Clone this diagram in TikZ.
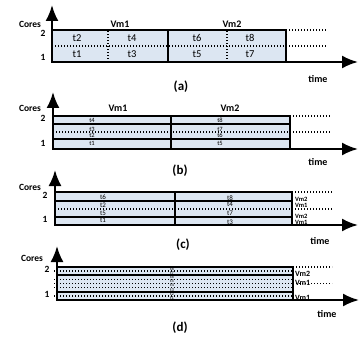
\documentclass[tikz,border=0pt]{standalone}
\usepackage{fontspec}
\setmainfont{Carlito}
\usetikzlibrary{arrows.meta}
\definecolor{cellfill}{RGB}{220,230,242}
\tikzset{
  axis/.style={line width=2.2pt,
    {Latex[length=16pt,width=13pt]}-{Latex[length=16pt,width=13pt]}},
  vmbox/.style={draw,line width=1.2pt,fill=cellfill},
  sep/.style={line width=1.8pt},
  dots/.style={line width=1.3pt,dash pattern=on 1.3pt off 1.7pt},
  lbl/.style={inner sep=0pt,font=\bfseries\fontsize{#1}{#1}\selectfont},
  lbl/.default=10,
  task/.style={inner sep=0pt,font=\fontsize{#1}{#1}\selectfont},
  caption/.style={inner sep=0pt,font=\bfseries\fontsize{13}{15}\selectfont},
}

\begin{document}
\begin{tikzpicture}[x=1pt,y=1pt]
\useasboundingbox (0,0) rectangle (359,338);

% (a) one task per core and time slot
\begin{scope}[shift={(52,276)}]
  \coordinate (a-o) at (0,0);
  \coordinate (a-y) at (0,57);
  \coordinate (a-x) at (306,0);
  \draw[vmbox] (0,0) rectangle (234,32);
  \draw[dots] (0,16) -- (275,16);
  \draw[dots] (234,32) -- (275,32);
  \draw[dots] (56,0) -- (56,32);
  \draw[dots] (175,0) -- (175,32);
  \draw[line width=1.2pt] (116,0) -- (116,32);
  \draw[axis] (a-y) -- (a-o) -- (a-x);
  \node[lbl] (a-vm1) at (68,38) {Vm1};
  \node[lbl] (a-vm2) at (180,38) {Vm2};
  \node[task=10.5] (a-t2) at (25,24) {t2};
  \node[task=10.5] (a-t4) at (80,24) {t4};
  \node[task=10.5] (a-t6) at (145,24) {t6};
  \node[task=10.5] (a-t8) at (198,24) {t8};
  \node[task=10.5] (a-t1) at (25,8) {t1};
  \node[task=10.5] (a-t3) at (80,8) {t3};
  \node[task=10.5] (a-t5) at (145,8) {t5};
  \node[task=10.5] (a-t7) at (198,8) {t7};
  \node[lbl=9.5] (a-cores) at (-22,38) {Cores};
  \node[lbl=9.5] (a-c2) at (-9,29) {2};
  \node[lbl=9.5] (a-c1) at (-9,5) {1};
  \node[lbl] (a-time) at (266,-17) {time};
  \node[caption] (a-cap) at (129,-25) {(a)};
\end{scope}

% (b) tasks of a VM stacked on the cores
\begin{scope}[shift={(53,189)}]
  \coordinate (b-o) at (0,0);
  \coordinate (b-y) at (0,57);
  \coordinate (b-x) at (305,0);
  \draw[vmbox] (0,0) rectangle (237,33);
  \draw[sep] (0,25) -- (237,25);
  \draw[sep] (0,10) -- (237,10);
  \draw[dots] (0,17) -- (277,17);
  \draw[dots] (237,33) -- (277,33);
  \draw[sep] (118,0) -- (118,33);
  \draw[axis] (b-y) -- (b-o) -- (b-x);
  \node[lbl] (b-vm1) at (65,41) {Vm1};
  \node[lbl] (b-vm2) at (177,41) {Vm2};
  \node[task=6.5] (b-t4) at (39,29) {t4};
  \node[task=6.5] (b-t3) at (39,20) {t3};
  \node[task=6.5] (b-t2) at (39,14) {t2};
  \node[task=6.5] (b-t1) at (39,6) {t1};
  \node[task=6.5] (b-t8) at (167,29) {t8};
  \node[task=6.5] (b-t7) at (167,20) {t7};
  \node[task=6.5] (b-t6) at (167,14) {t6};
  \node[task=6.5] (b-t5) at (167,6) {t5};
  \node[lbl=9.5] (b-cores) at (-23,41) {Cores};
  \node[lbl=9.5] (b-c2) at (-10,31) {2};
  \node[lbl=9.5] (b-c1) at (-10,6) {1};
  \node[lbl] (b-time) at (265,-13) {time};
  \node[caption] (b-cap) at (127,-22) {(b)};
\end{scope}

% (c) both VMs share every core
\begin{scope}[shift={(55,113)}]
  \coordinate (c-o) at (0,0);
  \coordinate (c-y) at (0,55);
  \coordinate (c-x) at (303,0);
  \draw[vmbox] (0,0) rectangle (237,33);
  \draw[sep] (0,24) -- (237,24);
  \draw[sep] (0,8) -- (237,8);
  \draw[dots] (0,16) -- (277,16);
  \draw[dots] (237,33) -- (277,33);
  \draw[sep] (120,0) -- (120,33);
  \draw[axis] (c-y) -- (c-o) -- (c-x);
  \node[task=7] (c-t6) at (48,28) {t6};
  \node[task=7] (c-t2) at (48,20) {t2};
  \node[task=7] (c-t5) at (48,12) {t5};
  \node[task=7] (c-t1) at (48,5) {t1};
  \node[task=7] (c-t8) at (175,27) {t8};
  \node[task=7] (c-t4) at (175,21) {t4};
  \node[task=7] (c-t7) at (175,12) {t7};
  \node[task=7] (c-t3) at (175,3) {t3};
  \node[lbl=6.5,anchor=west] (c-vm2a) at (240,26) {Vm2};
  \node[lbl=6.5,anchor=west] (c-vm1a) at (240,20) {Vm1};
  \node[lbl=6.5,anchor=west] (c-vm2b) at (240,9) {Vm2};
  \node[lbl=6.5,anchor=west] (c-vm1b) at (240,3) {Vm1};
  \node[lbl=9.5] (c-cores) at (-25,38) {Cores};
  \node[lbl=9.5] (c-c2) at (-10,30) {2};
  \node[lbl=9.5] (c-c1) at (-10,6) {1};
  \node[lbl] (c-time) at (265,-16) {time};
  \node[caption] (c-cap) at (128,-20) {(c)};
\end{scope}

% (d) one task per slice, eight slices
\begin{scope}[shift={(57,38)}]
  \coordinate (d-o) at (0,0);
  \coordinate (d-y) at (0,54);
  \coordinate (d-x) at (302,0);
  \draw[vmbox] (0,0) rectangle (236,33);
  \foreach \y in {4.125,12.375,16.5,20.625,28.875}
    \draw[dots] (-3,\y) -- (236,\y);
  \draw[sep] (0,24.75) -- (236,24.75);
  \draw[sep] (0,8.25) -- (236,8.25);
  \draw[dots] (236,33) -- (275,33);
  \draw[dots] (236,16.5) -- (275,16.5);
  \draw[axis] (d-y) -- (d-o) -- (d-x);
  \foreach \i in {1,...,8}
    \node[task=4.5] (d-t\i) at (115,{(\i-0.5)*4.125}) {t\i};
  \node[lbl=8,anchor=west] (d-vm2) at (238,26) {Vm2};
  \node[lbl=8,anchor=west] (d-vm1a) at (238,17) {Vm1};
  \node[lbl=8,anchor=west] (d-vm1b) at (238,2) {Vm1};
  \node[lbl=9.5] (d-cores) at (-25,42) {Cores};
  \node[lbl=9.5] (d-c2) at (-10,31) {2};
  \node[lbl=9.5] (d-c1) at (-10,6) {1};
  \node[lbl] (d-time) at (270,-14) {time};
  \node[caption] (d-cap) at (123,-28) {(d)};
\end{scope}
\end{tikzpicture}
\end{document}
